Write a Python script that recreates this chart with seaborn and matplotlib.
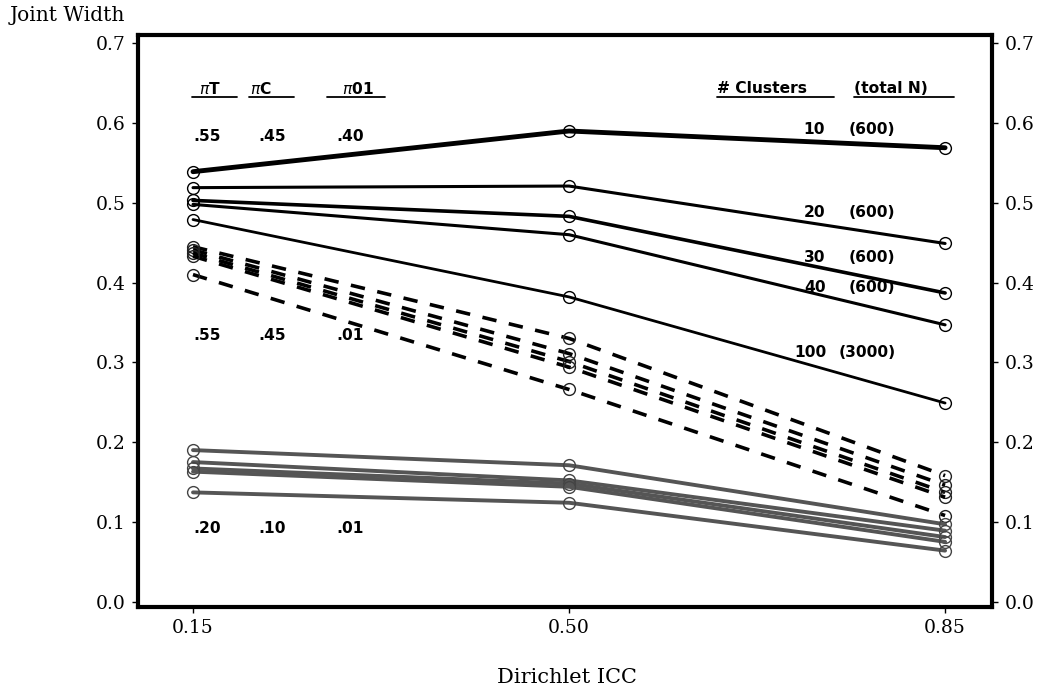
import numpy as np
import matplotlib
matplotlib.use("Agg")
import matplotlib.pyplot as plt
import seaborn as sns

# ---------------- data ----------------
icc = [0.15, 0.50, 0.85]
icc_labels = ["0.15", "0.50", "0.85"]

# pi = .55 / .45 / .40  (solid black), one line per cluster count
solid_10 = [0.539, 0.590, 0.569]
solid_20 = [0.519, 0.521, 0.449]
solid_30 = [0.503, 0.483, 0.387]
solid_40 = [0.498, 0.460, 0.347]
solid_100 = [0.479, 0.382, 0.249]

# pi = .55 / .45 / .01  (dashed black)
dash_a = [0.445, 0.330, 0.158]
dash_b = [0.441, 0.311, 0.146]
dash_c = [0.437, 0.301, 0.137]
dash_d = [0.433, 0.294, 0.131]
dash_e = [0.410, 0.266, 0.108]

# pi = .20 / .10 / .01  (solid grey)
grey_a = [0.190, 0.171, 0.097]
grey_b = [0.175, 0.152, 0.089]
grey_c = [0.167, 0.148, 0.081]
grey_d = [0.163, 0.144, 0.075]
grey_e = [0.137, 0.124, 0.064]

cluster_nums = ["10", "20", "30", "40", "100"]
cluster_ns = ["(600)", "(600)", "(600)", "(600)", "(3000)"]
yticks = [0.0, 0.1, 0.2, 0.3, 0.4, 0.5, 0.6, 0.7]

# ---------------- style ----------------
sns.set_style("ticks")
plt.rcParams["font.family"] = ["DejaVu Serif"]
plt.rcParams["text.color"] = "black"
plt.rcParams["xtick.color"] = "black"
plt.rcParams["ytick.color"] = "black"
ann_font = dict(family="DejaVu Sans", fontweight="bold", fontsize=11.2,
                color="black")

fig = plt.figure(figsize=(10.51, 6.91), dpi=100)
ax = fig.add_axes([0.1313, 0.122, 0.8126, 0.8273])

mk = dict(marker="o", markersize=8.5, markerfacecolor="none", markeredgewidth=1.0)

solid_lines = [solid_10, solid_20, solid_30, solid_40, solid_100]
solid_lw = [3.5, 2.2, 2.6, 2.2, 2.0]
for vals, lw in zip(solid_lines, solid_lw):
    sns.lineplot(x=icc, y=vals, ax=ax, color="black", linewidth=lw,
                 markeredgecolor="black", **mk)

for vals in [dash_a, dash_b, dash_c, dash_d, dash_e]:
    sns.lineplot(x=icc, y=vals, ax=ax, color="black", linewidth=2.6,
                 linestyle=(0, (4, 3.5)), markeredgecolor="#222222", **mk)

for vals in [grey_a, grey_b, grey_c, grey_d, grey_e]:
    sns.lineplot(x=icc, y=vals, ax=ax, color="#555555", linewidth=2.8,
                 markeredgecolor="#444444", **mk)

# ---------------- axes ----------------
ax.set_xlim(0.0988, 0.8937)
ax.set_ylim(-0.0063, 0.7103)
ax.set_xticks(icc)
ax.set_xticklabels(icc_labels)
ax.set_yticks(yticks)
ax.set_yticklabels([f"{v:.1f}" for v in yticks])
ax.tick_params(axis="both", labelsize=13.5, length=4, width=1, direction="out",
               pad=5, colors="black")
ax.tick_params(axis="y", right=True, labelright=True)
for s in ax.spines.values():
    s.set_linewidth(3)
    s.set_color("black")
ax.set_xlabel("")
ax.set_ylabel("")
fig.text(0.5395, 0.019, "Dirichlet ICC", ha="center", va="center", fontsize=15)
fig.text(0.009, 0.978, "Joint Width", ha="left", va="center", fontsize=14.5)

# ---------------- annotations ----------------
hx = [0.1556, 0.2033, 0.2889]
heads = [r"$\pi$T", r"$\pi$C", r"$\pi$01"]
ulines = [(0.1494, 0.1912), (0.2021, 0.2440), (0.2750, 0.3290)]
for x, h, (u0, u1) in zip(hx, heads, ulines):
    ax.text(x, 0.6432, h, ha="left", va="center", **ann_font)
    ax.plot([u0, u1], [0.633, 0.633], color="black", lw=1.3)

rows = [(0.5835, [".55", ".45", ".40"]),
        (0.334, [".55", ".45", ".01"]),
        (0.092, [".20", ".10", ".01"])]
col_x = [0.1500, 0.2105, 0.2835]
for y, labs in rows:
    for x, t in zip(col_x, labs):
        ax.text(x, y, t, ha="left", va="center", **ann_font)

ax.text(0.6379, 0.6432, "# Clusters", ha="left", va="center", **ann_font)
ax.plot([0.6379, 0.7467], [0.633, 0.633], color="black", lw=1.3)
ax.text(0.7653, 0.6432, "(total N)", ha="left", va="center", **ann_font)
ax.plot([0.7653, 0.8584], [0.633, 0.633], color="black", lw=1.3)

lab_y = [0.5913, 0.4873, 0.4309, 0.3933, 0.3118]
for num, par, y in zip(cluster_nums, cluster_ns, lab_y):
    x0 = 0.7185 if num != "100" else 0.7098
    x1 = 0.7604 if num != "100" else 0.7506
    ax.text(x0, y, num, ha="left", va="center", **ann_font)
    ax.text(x1, y, par, ha="left", va="center", **ann_font)

fig.savefig("out.png", dpi=100)
